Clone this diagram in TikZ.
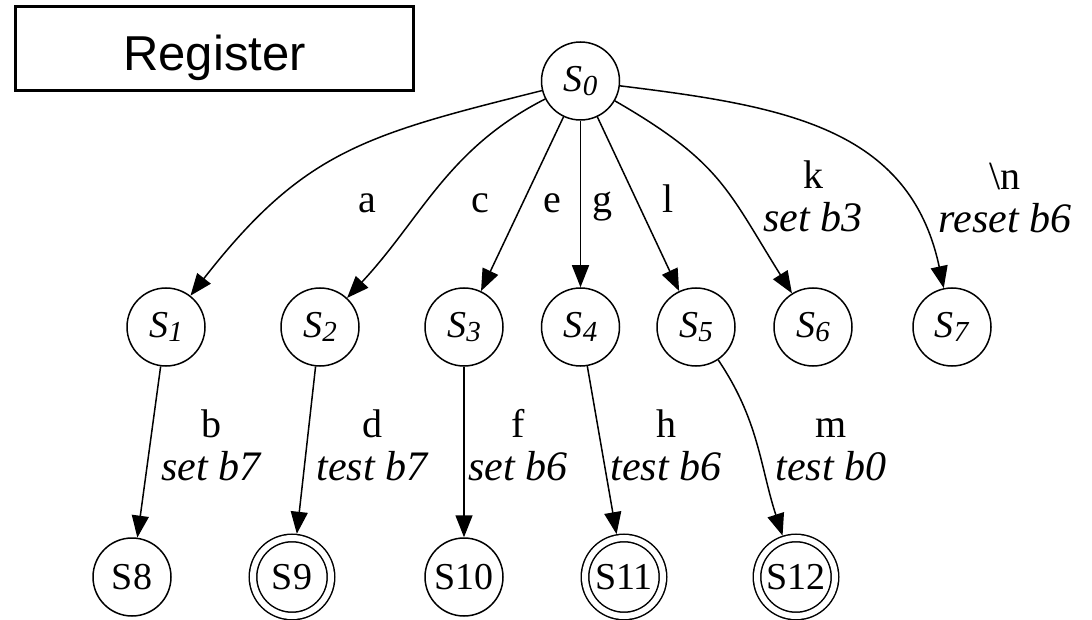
\documentclass[tikz,border=0pt]{standalone}
\usepackage{fontspec}
\setmainfont{Liberation Serif}
\newfontfamily\regfont{Liberation Sans}
\usetikzlibrary{arrows.meta}
\newcommand\sname[1]{\textit{S}\raisebox{-1.7pt}{\fontsize{14.5}{15}\selectfont\textit{#1}}}
\newcommand\act[1]{{\itshape\fontsize{21}{21.5}\selectfont #1}}
\tikzset{
  state/.style={circle,draw,line width=.75pt,minimum size=39pt,inner sep=0pt,font=\fontsize{19}{20}\selectfont},
  accept/.style={state,double,double distance=3pt,outer sep=2.25pt},
  trans/.style={-{Triangle[length=11pt,width=8.5pt]},line width=.75pt},
  lbl/.style={font=\fontsize{20}{21.5}\selectfont,align=center,inner sep=0pt,anchor=base},
  regbox/.style={draw,line width=1.5pt,minimum width=199pt,minimum height=42pt,inner sep=0pt,text height=22.5pt,text depth=0pt,font=\regfont\fontsize{24.5}{26}\selectfont}
}
\begin{document}
\begin{tikzpicture}[x=.5pt,y=-.5pt]
  \useasboundingbox (0,0) rectangle (1092,620);
  \node[regbox] (reg) at (214.5,48.5) {Register};

  \node[state] (s0) at (580.5,81) {\sname{0}};
  \node[state] (s1) at (166,327) {\sname{1}};
  \node[state] (s2) at (320,327) {\sname{2}};
  \node[state] (s3) at (464,327) {\sname{3}};
  \node[state] (s4) at (580.5,327) {\sname{4}};
  \node[state] (s5) at (696,327) {\sname{5}};
  \node[state] (s6) at (813,327) {\sname{6}};
  \node[state] (s7) at (952,327) {\sname{7}};
  \node[state] (s8) at (132,577) {S8};
  \node[accept] (s9) at (292,577) {S9};
  \node[state] (s10) at (464,577) {S10};
  \node[accept] (s11) at (624,577) {S11};
  \node[accept] (s12) at (796,577) {S12};

  \draw[trans] (s0) to[out=194,in=52,looseness=1.15] (s1);
  \draw[trans] (s0) to[out=207,in=47] (s2);
  \draw[trans] (s0) -- (s3);
  \draw[trans] (s0) -- (s4);
  \draw[trans] (s0) -- (s5);
  \draw[trans] (s0) to[out=-30,in=122,looseness=1.2] (s6);
  \draw[trans] (s0) to[out=-7,in=102,looseness=1.1] (s7);
  \draw[trans] (s1) -- (s8);
  \draw[trans] (s2) -- (s9);
  \draw[trans] (s3) -- (s10);
  \draw[trans] (s4) -- (s11);
  \draw[trans] (s5) to[out=-56,in=108] (s12);

  \node[lbl] (la) at (367,213) {a};
  \node[lbl] (lc) at (480,213) {c};
  \node[lbl] (le) at (552,213) {e};
  \node[lbl] (lg) at (602,213) {g};
  \node[lbl] (ll) at (668,213) {l};
  \node[lbl] (lk) at (813,232) {k\\\act{set b3}};
  \node[lbl] (ln) at (1005,233) {\textbackslash n\\\act{reset b6}};
  \node[lbl] (lb) at (211,480) {b\\\act{set b7}};
  \node[lbl] (ld) at (372,480) {d\\\act{test b7}};
  \node[lbl] (lf) at (518,480) {f\\\act{set b6}};
  \node[lbl] (lh) at (666,480) {h\\\act{test b6}};
  \node[lbl] (lm) at (831,480) {m\\\act{test b0}};
\end{tikzpicture}
\end{document}
